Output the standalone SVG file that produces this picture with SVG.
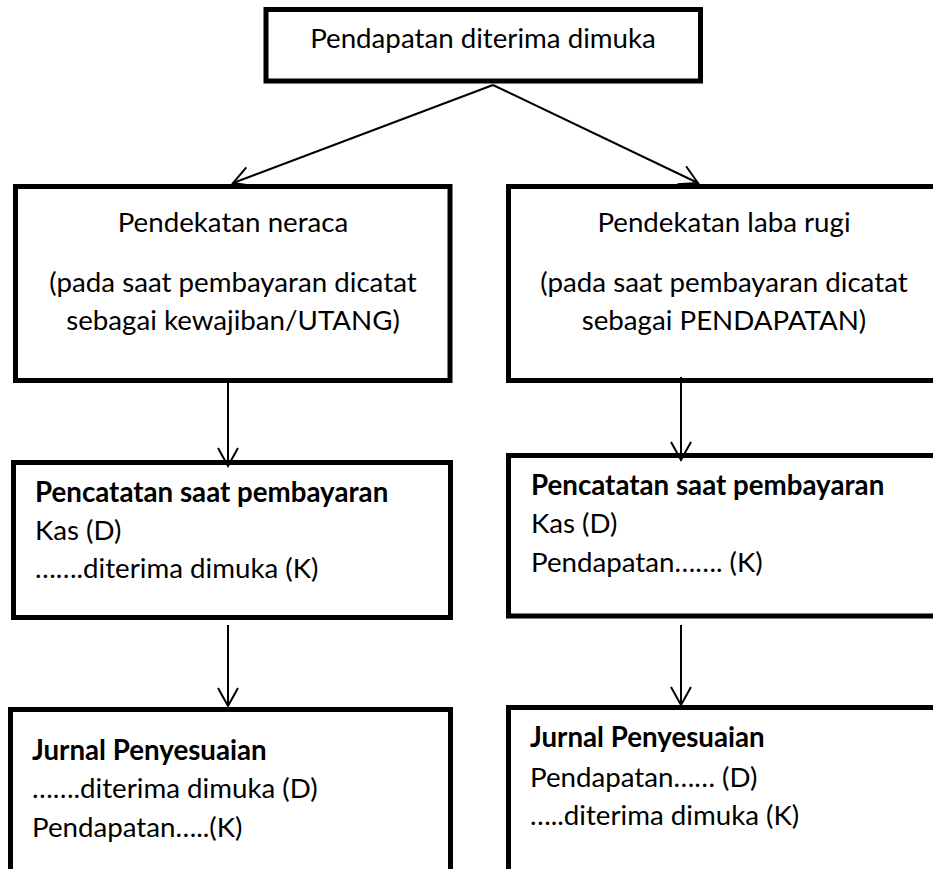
<svg xmlns="http://www.w3.org/2000/svg" width="933" height="869" viewBox="0 0 933 869">
  <style>
    .box { fill: #ffffff; stroke: #000000; stroke-width: 5; }
    .link { fill: none; stroke: #000000; stroke-width: 2; }
    .t { font-family: Lato, "Open Sans", "Liberation Sans", sans-serif; font-size: 27.7px; fill: #000000; }
    .c { text-anchor: middle; }
    .b { font-weight: bold; }
  </style>
  <defs>
    <marker id="arrow" markerUnits="userSpaceOnUse" markerWidth="24" markerHeight="24" refX="20" refY="12" orient="auto">
      <path d="M2,2 L20,12 L2,22" fill="none" stroke="#000000" stroke-width="2"/>
    </marker>
  </defs>

  <rect width="933" height="869" fill="#ffffff"/>

  <g id="top">
    <rect class="box" x="266" y="9.5" width="434.5" height="71.5"/>
    <text class="t c" x="483" y="48">Pendapatan diterima dimuka</text>
  </g>

  <g id="neraca">
    <rect class="box" x="15.5" y="186.5" width="434.5" height="194"/>
    <text class="t c" x="233" y="232">Pendekatan neraca</text>
    <text class="t c" x="233" y="292">(pada saat pembayaran dicatat</text>
    <text class="t c" x="233" y="330">sebagai kewajiban/UTANG)</text>
  </g>

  <g id="labarugi">
    <rect class="box" x="508.5" y="186.5" width="450" height="194"/>
    <text class="t c" x="724" y="232">Pendekatan laba rugi</text>
    <text class="t c" x="724" y="292">(pada saat pembayaran dicatat</text>
    <text class="t c" x="724" y="330">sebagai PENDAPATAN)</text>
  </g>

  <g id="neraca-catat">
    <rect class="box" x="13.5" y="462.5" width="437" height="155"/>
    <text class="t b" x="35" y="502">Pencatatan saat pembayaran</text>
    <text class="t" x="35" y="540">Kas (D)</text>
    <text class="t" x="35" y="578">…….diterima dimuka (K)</text>
  </g>

  <g id="labarugi-catat">
    <rect class="box" x="508.5" y="455.5" width="450" height="160.5"/>
    <text class="t b" x="531" y="495">Pencatatan saat pembayaran</text>
    <text class="t" x="531" y="533">Kas (D)</text>
    <text class="t" x="531" y="572">Pendapatan……. (K)</text>
  </g>

  <g id="neraca-jurnal">
    <rect class="box" x="10.5" y="709.5" width="440" height="200"/>
    <text class="t b" x="32" y="760">Jurnal Penyesuaian</text>
    <text class="t" x="32" y="798">…….diterima dimuka (D)</text>
    <text class="t" x="32" y="837">Pendapatan…..(K)</text>
  </g>

  <g id="labarugi-jurnal">
    <rect class="box" x="508.5" y="707.5" width="450" height="200"/>
    <text class="t b" x="530" y="747">Jurnal Penyesuaian</text>
    <text class="t" x="530" y="787">Pendapatan…… (D)</text>
    <text class="t" x="530" y="825">…..diterima dimuka (K)</text>
  </g>

  <g id="connectors">
    <line class="link" x1="493" y1="85" x2="233" y2="183" marker-end="url(#arrow)"/>
    <line class="link" x1="493" y1="85" x2="698" y2="183" marker-end="url(#arrow)"/>
    <line class="link" x1="228" y1="383" x2="228" y2="466" marker-end="url(#arrow)"/>
    <line class="link" x1="681" y1="377" x2="681" y2="460" marker-end="url(#arrow)"/>
    <line class="link" x1="228" y1="625" x2="228" y2="706" marker-end="url(#arrow)"/>
    <line class="link" x1="681" y1="625" x2="681" y2="705" marker-end="url(#arrow)"/>
  </g>
</svg>
